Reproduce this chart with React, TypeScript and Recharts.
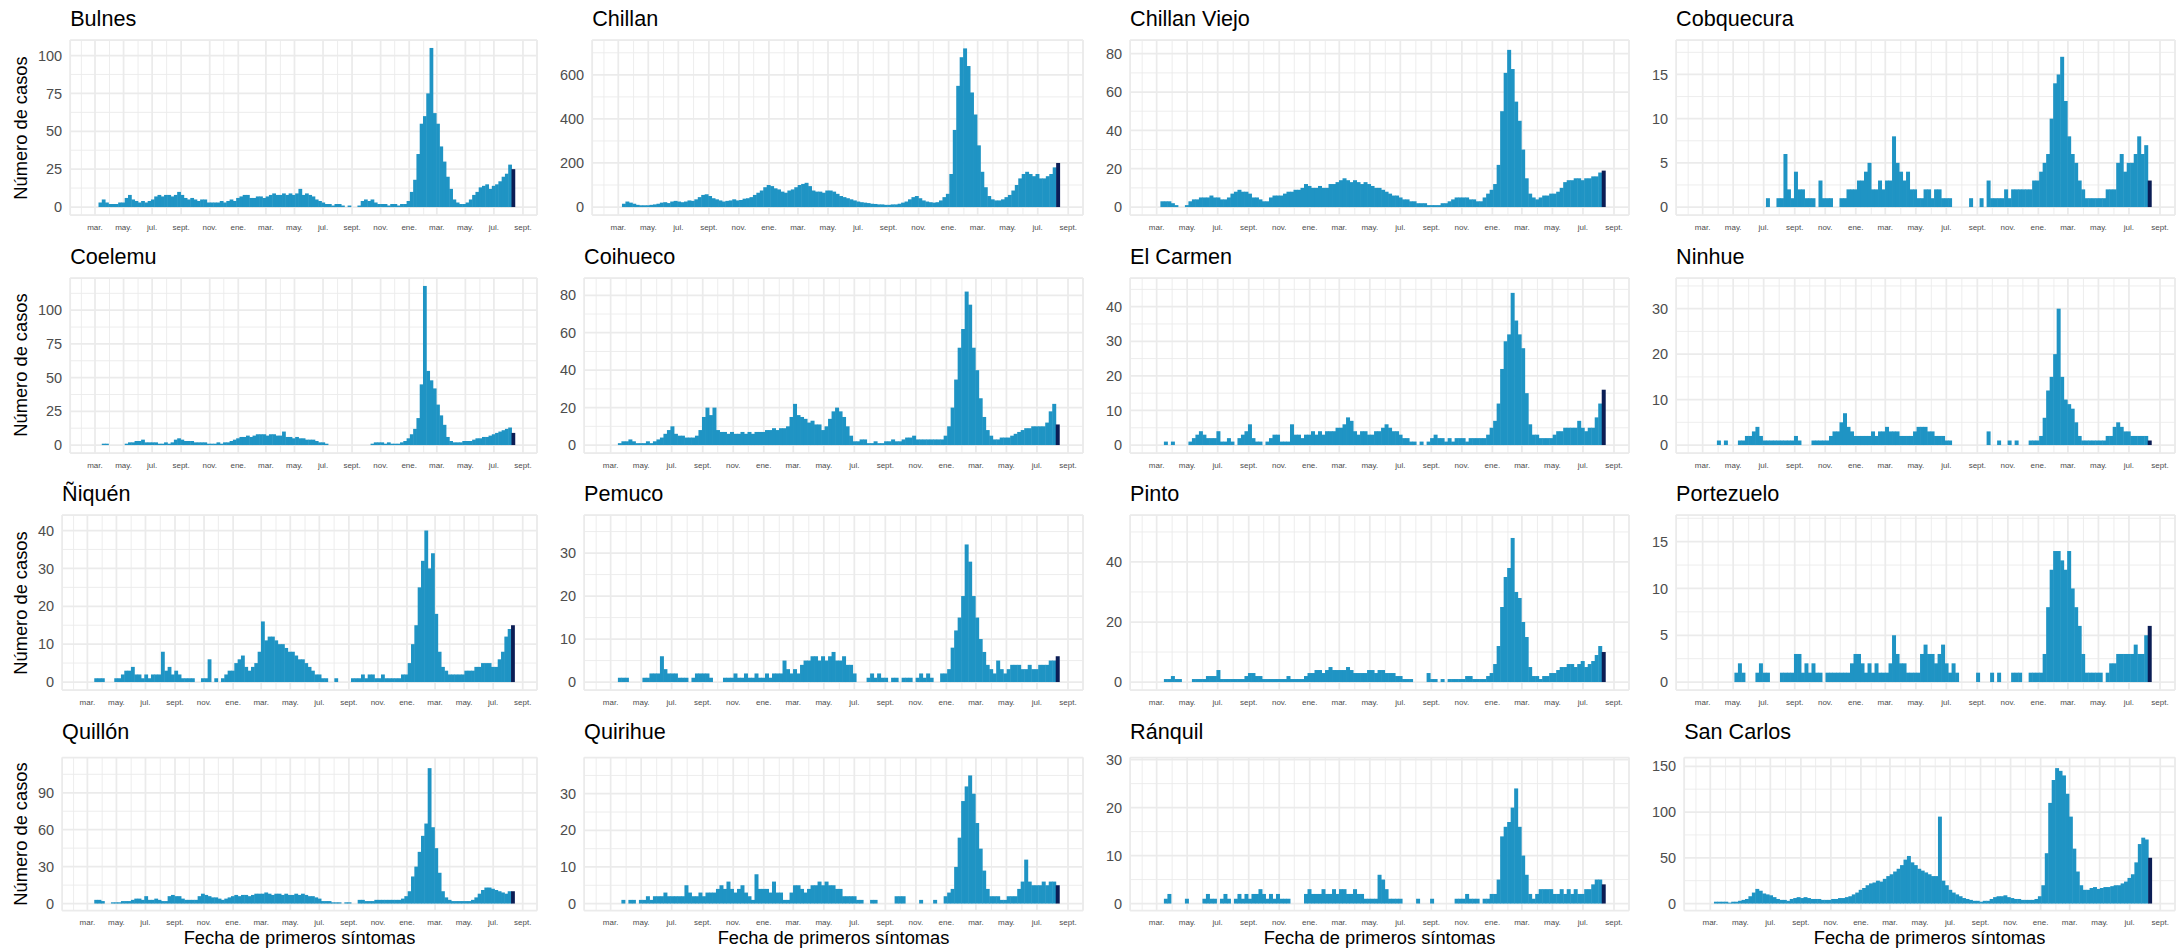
import React from 'react';
import { ComposedChart, Bar, XAxis, YAxis, CartesianGrid } from 'recharts';

// Casos diarios (nivel semanal aproximado), semana 0 = 23-feb-2020
const bulnes = [
  0, 0, 3, 5, 3, 2, 2, 2, 3, 3,
  6, 8, 5, 4, 3, 4, 3, 4, 5, 7,
  8, 7, 8, 8, 7, 8, 10, 8, 6, 5,
  6, 5, 4, 5, 5, 3, 3, 3, 3, 4,
  3, 4, 5, 4, 6, 7, 8, 8, 6, 6,
  7, 7, 6, 7, 8, 9, 8, 8, 9, 8,
  9, 8, 9, 12, 8, 9, 8, 7, 5, 4,
  3, 2, 2, 1, 2, 2, 1, 0, 1, 0,
  0, 1, 4, 5, 4, 5, 3, 2, 2, 2,
  1, 2, 2, 1, 2, 2, 4, 10, 18, 35,
  55, 60, 75, 105, 62, 55, 40, 30, 20, 12,
  5, 3, 2, 2, 3, 5, 8, 10, 13, 14,
  15, 12, 14, 15, 17, 20, 22, 28, 25,
];
const chillan = [
  0, 0, 15, 25, 20, 15, 10, 8, 8, 8,
  10, 12, 15, 20, 22, 18, 25, 28, 25, 22,
  25, 30, 28, 35, 45, 55, 58, 50, 40, 35,
  30, 25, 28, 30, 35, 30, 32, 38, 40, 45,
  55, 65, 75, 90, 100, 95, 85, 80, 70, 65,
  75, 80, 90, 100, 105, 110, 95, 75, 70, 70,
  65, 75, 75, 70, 60, 50, 45, 40, 35, 30,
  25, 22, 20, 18, 15, 14, 12, 12, 10, 10,
  12, 12, 15, 20, 25, 35, 45, 50, 40, 30,
  25, 22, 20, 22, 30, 45, 60, 150, 350, 550,
  680, 720, 640, 520, 420, 280, 160, 90, 50, 35,
  30, 30, 35, 45, 55, 75, 100, 130, 150, 160,
  150, 140, 150, 130, 130, 140, 150, 180, 200,
];
const chillanViejo = [
  0, 0, 3, 3, 3, 2, 1, 0, 0, 1,
  3, 4, 4, 5, 5, 5, 6, 5, 5, 4,
  4, 5, 7, 8, 9, 8, 8, 7, 5, 5,
  4, 3, 3, 5, 6, 6, 6, 7, 8, 8,
  9, 9, 10, 12, 11, 10, 10, 11, 10, 10,
  12, 12, 13, 14, 15, 14, 13, 14, 13, 12,
  13, 12, 11, 10, 10, 9, 8, 7, 6, 6,
  5, 4, 4, 3, 3, 2, 2, 2, 1, 1,
  1, 1, 2, 2, 3, 4, 5, 5, 5, 5,
  4, 4, 3, 3, 5, 7, 9, 12, 22, 50,
  70, 82, 72, 55, 45, 30, 15, 7, 5, 4,
  5, 6, 6, 7, 7, 8, 10, 13, 14, 14,
  15, 15, 14, 15, 15, 16, 16, 18, 19,
];
const cobquecura = [
  0, 0, 0, 0, 0, 0, 0, 0, 0, 0,
  0, 0, 0, 0, 0, 0, 0, 0, 0, 1,
  0, 0, 1, 1, 6, 2, 1, 4, 2, 2,
  1, 1, 1, 0, 3, 1, 1, 1, 0, 0,
  1, 1, 2, 2, 2, 3, 3, 4, 5, 2,
  2, 3, 2, 3, 3, 8, 5, 4, 3, 4,
  2, 2, 1, 1, 2, 2, 1, 2, 2, 1,
  1, 1, 0, 0, 0, 0, 0, 1, 0, 0,
  1, 0, 3, 1, 1, 1, 1, 2, 1, 2,
  2, 2, 2, 2, 2, 3, 3, 4, 5, 6,
  10, 14, 15, 17, 12, 8, 6, 5, 3, 2,
  1, 1, 1, 1, 1, 1, 2, 2, 2, 5,
  6, 4, 5, 5, 6, 8, 6, 7, 3,
];
const coelemu = [
  0, 0, 0, 1, 1, 0, 0, 0, 0, 0,
  1, 2, 2, 3, 3, 4, 2, 2, 2, 2,
  1, 1, 2, 1, 2, 4, 5, 4, 3, 3,
  3, 2, 2, 2, 2, 1, 1, 1, 2, 1,
  2, 2, 3, 4, 5, 6, 6, 7, 6, 7,
  8, 8, 8, 7, 8, 8, 7, 7, 10, 6,
  6, 5, 6, 5, 5, 4, 4, 4, 3, 2,
  2, 1, 0, 0, 0, 0, 0, 0, 0, 0,
  0, 0, 0, 0, 0, 1, 2, 2, 2, 1,
  2, 1, 1, 1, 2, 3, 5, 8, 12, 20,
  45, 118, 55, 48, 42, 30, 22, 15, 6, 3,
  2, 2, 2, 3, 3, 3, 4, 5, 5, 6,
  6, 7, 8, 9, 10, 11, 12, 13, 9,
];
const coihueco = [
  0, 0, 0, 1, 2, 2, 3, 2, 1, 1,
  1, 2, 1, 2, 3, 4, 6, 8, 10, 6,
  5, 5, 4, 4, 4, 5, 8, 15, 20, 16,
  20, 8, 7, 7, 6, 7, 6, 6, 7, 6,
  7, 6, 7, 7, 7, 8, 8, 9, 8, 9,
  9, 10, 15, 22, 16, 15, 14, 12, 13, 11,
  11, 8, 10, 14, 18, 20, 18, 15, 10, 5,
  2, 2, 3, 3, 1, 1, 2, 1, 1, 2,
  2, 3, 2, 2, 3, 4, 4, 5, 3, 3,
  3, 3, 3, 3, 3, 3, 5, 10, 20, 35,
  52, 62, 82, 75, 52, 40, 25, 15, 8, 5,
  3, 3, 4, 4, 4, 5, 6, 7, 8, 9,
  9, 10, 10, 10, 10, 12, 18, 22, 11,
];
const elCarmen = [
  0, 0, 0, 1, 0, 1, 0, 0, 0, 0,
  1, 2, 3, 4, 3, 2, 2, 2, 4, 1,
  1, 2, 1, 0, 2, 3, 4, 6, 2, 1,
  1, 0, 1, 2, 3, 3, 1, 1, 1, 6,
  3, 3, 2, 3, 3, 4, 3, 4, 3, 4,
  4, 4, 5, 5, 6, 8, 7, 4, 3, 4,
  4, 3, 3, 4, 4, 5, 6, 5, 4, 4,
  3, 2, 2, 1, 1, 0, 1, 0, 1, 2,
  3, 2, 2, 1, 2, 1, 2, 2, 2, 1,
  2, 2, 2, 2, 2, 3, 5, 7, 12, 22,
  30, 32, 44, 36, 32, 28, 15, 6, 3, 3,
  2, 2, 2, 2, 3, 4, 4, 5, 5, 5,
  5, 7, 5, 4, 5, 5, 8, 12, 16,
];
const ninhue = [
  0, 0, 0, 0, 0, 1, 0, 1, 0, 0,
  0, 1, 1, 2, 2, 3, 4, 2, 1, 1,
  1, 1, 1, 1, 1, 1, 1, 2, 1, 0,
  0, 0, 1, 1, 1, 1, 1, 2, 3, 3,
  5, 7, 4, 3, 2, 2, 2, 2, 2, 3,
  2, 3, 3, 4, 3, 3, 3, 2, 2, 2,
  2, 3, 4, 4, 4, 3, 3, 2, 2, 2,
  1, 1, 0, 0, 0, 0, 0, 0, 0, 0,
  0, 0, 3, 0, 0, 1, 0, 0, 1, 0,
  1, 0, 0, 0, 1, 1, 1, 2, 6, 12,
  15, 20, 30, 15, 10, 9, 8, 5, 2, 1,
  1, 1, 1, 1, 1, 1, 2, 2, 4, 5,
  4, 3, 3, 2, 2, 2, 2, 2, 1,
];
const niquen = [
  0, 0, 0, 1, 1, 1, 0, 0, 0, 1,
  1, 2, 3, 3, 4, 2, 2, 1, 2, 1,
  2, 2, 2, 8, 3, 4, 2, 3, 2, 1,
  1, 1, 1, 0, 0, 1, 1, 6, 0, 1,
  0, 1, 2, 3, 3, 5, 6, 7, 4, 3,
  4, 5, 8, 16, 11, 12, 12, 11, 10, 10,
  9, 8, 8, 7, 6, 6, 5, 4, 3, 2,
  2, 1, 1, 0, 0, 1, 0, 0, 0, 0,
  1, 1, 1, 2, 1, 2, 2, 1, 1, 2,
  1, 1, 1, 1, 1, 2, 2, 5, 10, 15,
  25, 32, 40, 30, 34, 18, 8, 4, 3, 2,
  2, 2, 2, 2, 3, 3, 3, 4, 4, 5,
  5, 5, 4, 4, 6, 8, 12, 14, 15,
];
const pemuco = [
  0, 0, 0, 1, 1, 1, 0, 0, 0, 0,
  1, 1, 2, 2, 2, 6, 3, 2, 2, 2,
  1, 1, 1, 0, 1, 2, 2, 2, 2, 1,
  0, 0, 0, 1, 1, 1, 2, 1, 1, 2,
  1, 1, 2, 1, 1, 2, 1, 2, 2, 2,
  5, 3, 2, 3, 2, 4, 5, 5, 6, 6,
  5, 6, 5, 6, 7, 5, 5, 6, 4, 4,
  2, 0, 0, 0, 1, 2, 1, 2, 1, 1,
  0, 1, 1, 0, 1, 1, 1, 0, 1, 2,
  1, 2, 1, 0, 0, 2, 2, 3, 8, 12,
  15, 20, 32, 28, 20, 15, 10, 7, 4, 3,
  2, 5, 3, 2, 3, 4, 4, 4, 3, 3,
  4, 3, 3, 4, 4, 4, 5, 5, 6,
];
const pinto = [
  0, 0, 0, 1, 1, 2, 1, 1, 0, 0,
  0, 1, 1, 1, 1, 2, 2, 2, 4, 1,
  1, 1, 1, 1, 1, 1, 2, 3, 3, 2,
  2, 1, 1, 1, 1, 1, 1, 1, 2, 1,
  1, 1, 1, 2, 3, 3, 4, 4, 3, 4,
  5, 4, 4, 4, 4, 5, 4, 3, 3, 3,
  3, 4, 4, 3, 4, 4, 3, 3, 3, 2,
  2, 1, 1, 1, 0, 0, 0, 0, 3, 1,
  1, 0, 1, 0, 1, 1, 1, 1, 1, 2,
  2, 1, 1, 1, 1, 2, 3, 6, 12, 25,
  35, 38, 48, 30, 28, 20, 15, 5, 2, 2,
  1, 2, 2, 3, 3, 4, 5, 5, 6, 6,
  5, 6, 7, 5, 6, 7, 9, 12, 10,
];
const portezuelo = [
  0, 0, 0, 0, 0, 0, 0, 0, 0, 0,
  1, 2, 1, 0, 0, 0, 1, 2, 1, 1,
  0, 0, 0, 1, 1, 1, 1, 3, 3, 1,
  2, 1, 2, 1, 1, 0, 1, 1, 1, 1,
  1, 1, 1, 2, 3, 3, 2, 1, 2, 1,
  2, 1, 1, 1, 2, 5, 3, 2, 2, 1,
  1, 1, 1, 3, 4, 3, 3, 2, 3, 4,
  2, 1, 2, 1, 0, 0, 0, 0, 0, 1,
  0, 0, 0, 1, 0, 1, 0, 0, 0, 1,
  1, 1, 0, 0, 1, 1, 1, 1, 3, 8,
  12, 14, 14, 13, 12, 14, 10, 8, 6, 3,
  1, 1, 1, 1, 1, 0, 1, 2, 2, 3,
  3, 3, 3, 3, 4, 3, 3, 5, 6,
];
const quillon = [
  0, 0, 0, 3, 3, 2, 0, 0, 1, 1,
  1, 2, 2, 2, 3, 4, 4, 3, 6, 3,
  3, 4, 3, 2, 2, 6, 7, 6, 6, 4,
  3, 3, 3, 3, 6, 8, 7, 6, 5, 5,
  4, 3, 4, 5, 6, 7, 6, 7, 7, 6,
  7, 8, 8, 8, 9, 8, 7, 8, 8, 7,
  8, 7, 7, 8, 7, 8, 7, 6, 6, 5,
  4, 2, 2, 2, 1, 1, 1, 0, 1, 1,
  0, 0, 3, 3, 2, 2, 2, 3, 3, 3,
  3, 3, 3, 3, 3, 4, 6, 10, 22, 30,
  42, 55, 65, 110, 62, 45, 25, 10, 5, 3,
  2, 2, 2, 2, 2, 2, 3, 5, 8, 11,
  13, 13, 12, 11, 10, 9, 8, 10, 10,
];
const quirihue = [
  0, 0, 0, 0, 1, 0, 1, 1, 0, 1,
  1, 2, 1, 2, 2, 2, 3, 2, 2, 2,
  2, 2, 5, 3, 2, 2, 3, 2, 3, 3,
  3, 4, 5, 4, 6, 4, 3, 4, 5, 3,
  2, 1, 8, 4, 4, 4, 3, 6, 3, 3,
  1, 1, 3, 5, 5, 4, 3, 4, 5, 5,
  6, 5, 6, 5, 5, 4, 4, 2, 2, 2,
  2, 1, 1, 0, 0, 1, 1, 0, 0, 0,
  0, 0, 2, 2, 2, 0, 0, 0, 0, 1,
  0, 0, 0, 1, 0, 0, 2, 3, 4, 10,
  18, 28, 32, 35, 30, 22, 15, 9, 4, 2,
  2, 2, 1, 1, 2, 2, 2, 4, 6, 12,
  6, 5, 5, 5, 6, 5, 6, 6, 5,
];
const ranquil = [
  0, 0, 0, 1, 2, 0, 0, 0, 0, 1,
  0, 0, 0, 0, 1, 2, 1, 1, 0, 1,
  2, 1, 0, 1, 2, 1, 2, 1, 2, 2,
  3, 2, 1, 2, 1, 2, 1, 1, 1, 0,
  0, 0, 0, 2, 3, 2, 2, 2, 3, 2,
  2, 3, 2, 3, 3, 2, 2, 3, 2, 2,
  1, 1, 1, 1, 6, 5, 3, 1, 1, 1,
  1, 0, 0, 0, 0, 1, 0, 0, 0, 1,
  0, 0, 0, 0, 0, 0, 1, 1, 1, 2,
  1, 1, 1, 0, 1, 1, 2, 2, 5, 14,
  16, 17, 20, 24, 16, 10, 6, 2, 1, 2,
  3, 3, 3, 3, 2, 2, 3, 2, 3, 2,
  3, 2, 2, 3, 3, 4, 5, 5, 4,
];
const sanCarlos = [
  0, 0, 2, 2, 2, 2, 1, 2, 2, 3,
  4, 5, 8, 12, 16, 14, 11, 10, 9, 7,
  5, 4, 4, 3, 5, 6, 7, 6, 7, 6,
  5, 5, 5, 4, 4, 4, 5, 5, 6, 6,
  7, 8, 10, 12, 15, 17, 20, 22, 23, 25,
  24, 27, 30, 32, 35, 38, 42, 48, 52, 45,
  42, 38, 36, 34, 32, 30, 30, 95, 25, 20,
  15, 12, 10, 8, 6, 5, 4, 3, 3, 2,
  3, 3, 5, 7, 8, 8, 9, 7, 6, 5,
  5, 4, 4, 4, 4, 5, 8, 20, 55, 110,
  135, 148, 145, 140, 120, 95, 60, 35, 20, 15,
  15, 17, 18, 16, 17, 18, 18, 19, 20, 20,
  22, 24, 28, 32, 45, 65, 72, 70, 50,
];

const COMUNAS = [
  'Bulnes', 'Chillan', 'Chillan Viejo', 'Cobquecura',
  'Coelemu', 'Coihueco', 'El Carmen', 'Ninhue',
  'Ñiquén', 'Pemuco', 'Pinto', 'Portezuelo',
  'Quillón', 'Quirihue', 'Ránquil', 'San Carlos',
];
const SERIES = [
  bulnes, chillan, chillanViejo, cobquecura,
  coelemu, coihueco, elCarmen, ninhue,
  niquen, pemuco, pinto, portezuelo,
  quillon, quirihue, ranquil, sanCarlos,
];
// máximo diario de cada comuna (define la escala y)
const MAX_DIARIO = [105, 722, 83, 18, 118, 85, 46, 35, 42, 37, 53, 17, 113, 38, 29, 152];
const TICKS_Y = [
  [0, 25, 50, 75, 100], [0, 200, 400, 600], [0, 20, 40, 60, 80], [0, 5, 10, 15],
  [0, 25, 50, 75, 100], [0, 20, 40, 60, 80], [0, 10, 20, 30, 40], [0, 10, 20, 30],
  [0, 10, 20, 30, 40], [0, 10, 20, 30], [0, 20, 40], [0, 5, 10, 15],
  [0, 30, 60, 90], [0, 10, 20, 30], [0, 10, 20, 30], [0, 50, 100, 150],
];
const ETIQUETAS_MES = [
  'mar.', 'may.', 'jul.', 'sept.', 'nov.', 'ene.', 'mar.', 'may.',
  'jul.', 'sept.', 'nov.', 'ene.', 'mar.', 'may.', 'jul.', 'sept.',
];

const FONT = '"Liberation Sans", Arial, Helvetica, sans-serif';
const AZUL = '#1F94C4';
const AZUL_OSCURO = '#0B1D55';
const GRILLA = '#EBEBEB';
const TEXTO_EJE = '#4D4D4D';

const ORIGEN = Date.UTC(2020, 2, 1);
const dia = (y: number, m: number, d = 1) => (Date.UTC(y, m - 1, d) - ORIGEN) / 864e5;

// centro de cada semana, desde el 27-feb-2020
const SEMANAS = Array.from({ length: bulnes.length }, (_, i) => dia(2020, 2, 27) + 7 * i);
const MESES_MAYOR = ETIQUETAS_MES.map((_, i) => dia(2020, 3 + 2 * i));
const MESES_MENOR = Array.from({ length: 17 }, (_, i) => dia(2020, 2 + 2 * i));
const LIMITES_X: [number, number] = [dia(2020, 1, 8), dia(2022, 10, 1)];

const W = 546;
const H = 238;
const ALTO_FILA = 237.5;

function Panel({ idx }: { idx: number }) {
  const col = idx % 4;
  const fila = Math.floor(idx / 4);
  const ultimaFila = fila === 3;
  const valores = SERIES[idx];
  const ticks = TICKS_Y[idx];
  const maxY = MAX_DIARIO[idx];
  const dominioY: [number, number] = [-0.05 * maxY, 1.05 * maxY];
  const paso = ticks[1] - ticks[0];
  const menores = ticks.map((t) => t + paso / 2).filter((t) => t < dominioY[1]);
  const digitos = Math.max(...ticks.map((t) => String(t).length));
  const anchoY = 8.06 * digitos + 8;
  const izq = col === 0 ? 38 : 14;
  const arriba = ultimaFila ? 44.5 : 40;
  const abajo = ultimaFila ? 20.5 : 3;
  const anchoPanel = W - 9 - izq - anchoY;
  const banda = (7 * anchoPanel) / (LIMITES_X[1] - LIMITES_X[0]);
  const n = valores.length;

  const data = SEMANAS.map((d, i) => ({ dia: d, casos: valores[i] }));
  const x0 = col * W;
  const y0 = fila * ALTO_FILA;
  const panelIzq = izq + anchoY;

  const barra = (p: any) => {
    if (!p.height || p.height <= 0) return <g />;
    return (
      <rect
        x={p.x}
        y={p.y}
        width={p.width + 0.5}
        height={p.height}
        fill={p.index === n - 1 ? AZUL_OSCURO : AZUL}
      />
    );
  };

  return (
    <div style={{ position: 'absolute', left: x0, top: y0, width: W, height: H }}>
      <div
        style={{
          position: 'absolute', left: panelIzq, top: 8, fontSize: 21.6, lineHeight: '22px',
          color: '#000', whiteSpace: 'nowrap',
        }}
      >
        {COMUNAS[idx]}
      </div>
      {col === 0 && (
        <div
          style={{
            position: 'absolute', left: 21 - 110, top: arriba + (H - arriba - abajo - 20) / 2 - 10,
            width: 220, height: 20, lineHeight: '20px', fontSize: 18.3, textAlign: 'center',
            transform: 'rotate(-90deg)', color: '#000', whiteSpace: 'nowrap',
          }}
        >
          Número de casos
        </div>
      )}
      {ultimaFila && (
        <div
          style={{
            position: 'absolute', left: panelIzq, width: anchoPanel, top: 215,
            lineHeight: '20px', fontSize: 18.3, textAlign: 'center', color: '#000', whiteSpace: 'nowrap',
          }}
        >
          Fecha de primeros síntomas
        </div>
      )}
      <div style={{ position: 'absolute', left: 0, top: 0 }}>
        <ComposedChart
          width={W}
          height={H}
          data={data}
          margin={{ top: arriba, right: 9, bottom: abajo, left: izq }}
        >
          <XAxis
            xAxisId="menor"
            dataKey="dia"
            type="number"
            domain={LIMITES_X}
            allowDataOverflow
            ticks={MESES_MENOR}
            hide
          />
          <YAxis yAxisId="menor" type="number" domain={dominioY} allowDataOverflow ticks={menores} hide />
          <CartesianGrid xAxisId="menor" yAxisId="menor" stroke={GRILLA} strokeWidth={0.9} />
          <XAxis
            xAxisId="mayor"
            dataKey="dia"
            type="number"
            domain={LIMITES_X}
            allowDataOverflow
            ticks={MESES_MAYOR}
            interval={0}
            tickFormatter={(v: number) => ETIQUETAS_MES[MESES_MAYOR.indexOf(v)] ?? ''}
            tickLine={false}
            axisLine={false}
            tickSize={0}
            tickMargin={9}
            height={20}
            tick={{ fontSize: 8, fill: TEXTO_EJE, fontFamily: FONT }}
          />
          <YAxis
            yAxisId="mayor"
            type="number"
            domain={dominioY}
            allowDataOverflow
            ticks={ticks}
            interval={0}
            tickLine={false}
            axisLine={false}
            tickSize={0}
            tickMargin={8}
            width={anchoY}
            tick={{ fontSize: 14.5, fill: TEXTO_EJE, fontFamily: FONT }}
          />
          <CartesianGrid xAxisId="mayor" yAxisId="mayor" stroke={GRILLA} strokeWidth={1.75} />
          <Bar
            xAxisId="mayor"
            yAxisId="mayor"
            dataKey="casos"
            barSize={banda - 0.01}
            fill={AZUL}
            shape={barra}
            isAnimationActive={false}
          />
        </ComposedChart>
      </div>
    </div>
  );
}

export default function App() {
  return (
    <div
      style={{
        position: 'absolute', left: 0, top: 0, width: 2184, height: 950,
        background: '#fff', fontFamily: FONT, overflow: 'hidden',
      }}
    >
      {COMUNAS.map((_, i) => (
        <Panel key={i} idx={i} />
      ))}
    </div>
  );
}
